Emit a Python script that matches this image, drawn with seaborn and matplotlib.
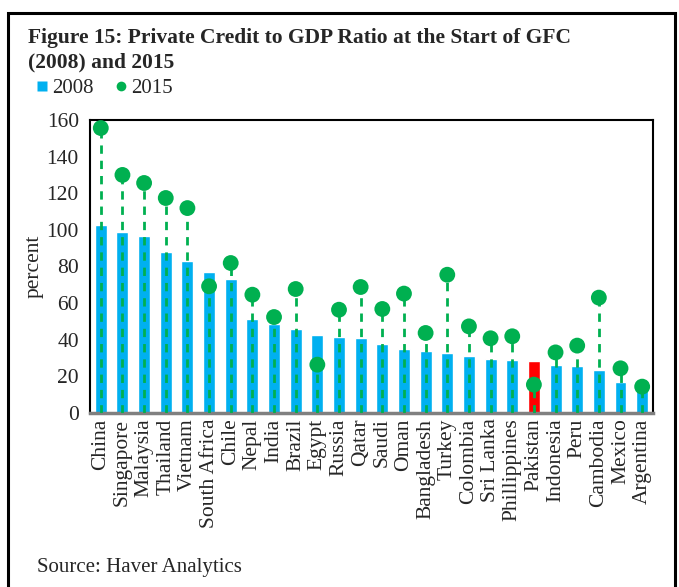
import matplotlib
matplotlib.use("Agg")
import matplotlib.pyplot as plt
import seaborn as sns
import pandas as pd
from matplotlib.patches import Rectangle
from matplotlib.lines import Line2D

countries = ["China", "Singapore", "Malaysia", "Thailand", "Vietnam", "South Africa", "Chile",
             "Nepal", "India", "Brazil", "Egypt", "Russia", "Qatar", "Saudi", "Oman",
             "Bangladesh", "Turkey", "Colombia", "Sri Lanka", "Phillippines", "Pakistan",
             "Indonesia", "Peru", "Cambodia", "Mexico", "Argentina"]
v2008 = [102.8, 98.7, 96.8, 87.9, 83.0, 76.8, 73.0, 51.3, 48.6, 45.9, 42.8, 41.5, 40.8,
         37.7, 35.1, 34.0, 32.6, 30.9, 29.5, 29.1, 28.6, 26.4, 25.5, 23.3, 17.1, 12.7]
v2015 = [155.6, 130.0, 125.6, 117.4, 111.9, 69.2, 81.9, 64.6, 52.4, 67.7, 26.4, 56.4, 68.8,
         56.8, 65.2, 43.7, 75.5, 47.3, 40.8, 41.9, 15.5, 33.1, 36.8, 63.0, 24.4, 14.4]
highlight = "Pakistan"

BLUE = "#00B0F0"
GREEN = "#00B050"
RED = "#FF0000"

df = pd.DataFrame({"country": countries, "y2008": v2008, "y2015": v2015})
palette = {c: (RED if c == highlight else BLUE) for c in countries}

sns.set_style("white")
plt.rcParams["font.family"] = ["Liberation Serif", "DejaVu Serif"]

fig = plt.figure(figsize=(6.79, 5.87), dpi=100)
ax = fig.add_axes([0.1325, 0.2964, 0.8292, 0.4992])

sns.barplot(data=df, x="country", y="y2008", hue="country", palette=palette,
            width=0.55, legend=False, ax=ax, saturation=1, zorder=2)
xs = list(range(len(countries)))
ax.vlines(xs, 0, df["y2015"], colors=GREEN, linestyles=(0, (3.0, 2.5)), linewidth=2.0, zorder=3)
sns.scatterplot(x=xs, y=df["y2015"], color=GREEN, s=130, edgecolor="none", ax=ax, zorder=4)

ax.set_xlim(-0.5, len(countries) - 0.5)
ax.set_ylim(0, 160)
ax.set_yticks(range(0, 161, 20))
ax.tick_params(axis="y", length=0, labelsize=15.5, pad=8)
ax.tick_params(axis="x", length=0, labelsize=15.5, labelrotation=90, pad=4)
ax.set_xlabel("")
ax.set_ylabel("percent", fontsize=15.5, labelpad=2)
for s in ["top", "right", "left"]:
    ax.spines[s].set_color("black")
    ax.spines[s].set_linewidth(1.5)
ax.spines["bottom"].set_color("#808080")
ax.spines["bottom"].set_linewidth(2.5)

fig.text(0.041, 0.935, "Figure 15: Private Credit to GDP Ratio at the Start of GFC",
         fontsize=15.5, fontweight="bold", va="center")
fig.text(0.041, 0.894, "(2008) and 2015", fontsize=15.5, fontweight="bold", va="center")

handles = [Line2D([0], [0], marker="s", color="none", markerfacecolor=BLUE, markeredgecolor="none", markersize=7.5),
           Line2D([0], [0], marker="o", color="none", markerfacecolor=GREEN, markeredgecolor="none", markersize=7)]
fig.legend(handles, ["2008", "2015"], loc="center left", bbox_to_anchor=(0.024, 0.849), ncol=2,
           frameon=False, fontsize=15, handlelength=0.7, handletextpad=0.1, columnspacing=1.0)

fig.text(0.054, 0.034, "Source: Haver Analytics", fontsize=15, va="center")

fig.patches.append(Rectangle((0.012, -0.01), 0.982, 0.988, transform=fig.transFigure,
                             fill=False, edgecolor="black", linewidth=2.2))

fig.savefig("out.png", dpi=100)
